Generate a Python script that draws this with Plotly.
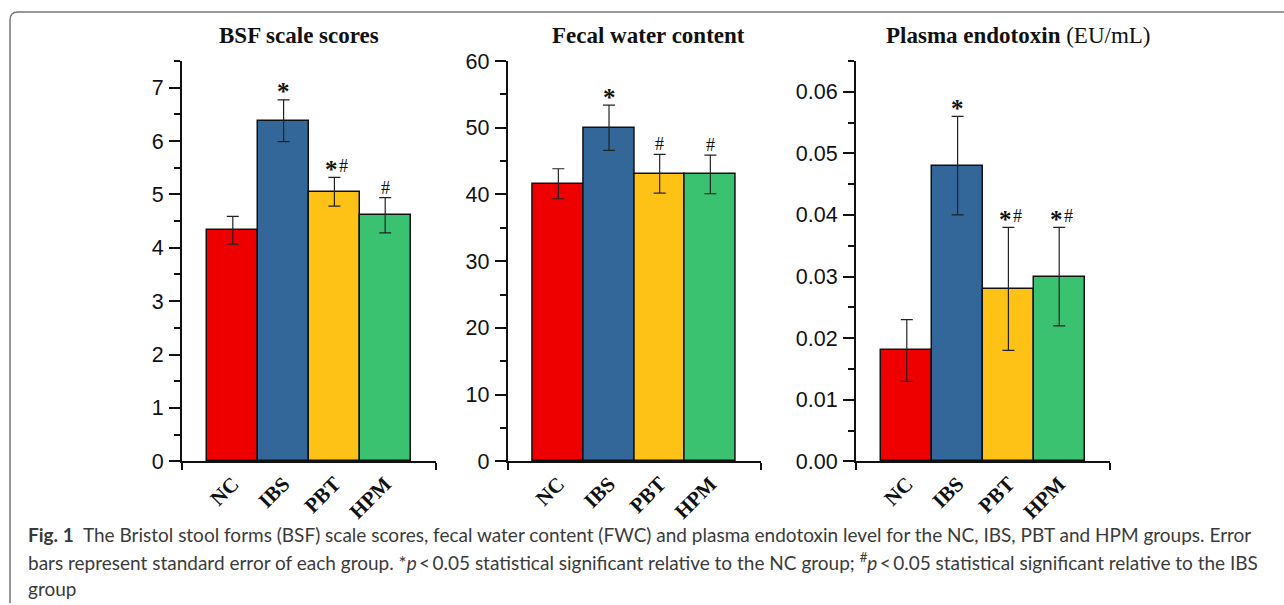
import plotly.graph_objects as go

W, H = 1284, 605

categories = ["NC", "IBS", "PBT", "HPM"]
bar_colors = ["#EE0000", "#336699", "#FEC216", "#3BC271"]

bsf_mean = [4.33, 6.38, 5.05, 4.61]
bsf_se = [0.26, 0.39, 0.27, 0.33]
bsf_sig = ["", "*", "*#", "#"]

fwc_mean = [41.6, 50.0, 43.1, 43.0]
fwc_se = [2.25, 3.4, 2.9, 2.9]
fwc_sig = ["", "*", "#", "#"]

endo_mean = [0.018, 0.048, 0.028, 0.030]
endo_se = [0.005, 0.008, 0.010, 0.008]
endo_sig = ["", "*", "*#", "*#"]

titles = ["<b>BSF scale scores</b>", "<b>Fecal water content</b>",
          "<b>Plasma endotoxin</b> (EU/mL)"]


def px(x):
    return x / W


def py(y):
    return 1 - y / H


panels = [
    dict(mean=bsf_mean, se=bsf_se, sig=bsf_sig, x0=182, x1=436,
         yr=[0, 7.5], dtick=1, minor=0.5, fmt="", tcx=298.7),
    dict(mean=fwc_mean, se=fwc_se, sig=fwc_sig, x0=507.7, x1=761,
         yr=[0, 60], dtick=10, minor=5, fmt="", tcx=648.3),
    dict(mean=endo_mean, se=endo_se, sig=endo_sig, x0=856, x1=1110,
         yr=[0, 0.065], dtick=0.01, minor=0.005, fmt=".2f", tcx=1018),
]

y_bottom, y_top = 461.3, 61

fig = go.Figure()
annotations = []
xs = list(range(len(categories)))

star_font = dict(family="Liberation Serif", size=25, color="#111111")
hash_font = dict(family="Liberation Serif", size=18, color="#111111")

for i, p in enumerate(panels):
    n = "" if i == 0 else str(i + 1)
    fig.add_trace(go.Bar(
        x=xs, y=p["mean"], width=1.0,
        marker=dict(color=bar_colors, line=dict(color="#111111", width=1.5)),
        error_y=dict(type="data", array=p["se"], visible=True,
                     color="#222222", thickness=1.2, width=6),
        xaxis="x" + n, yaxis="y" + n, showlegend=False,
    ))
    xa = dict(
        domain=[px(p["x0"]), px(p["x1"])], range=[-1, 4],
        tickvals=xs, ticktext=["<b>%s</b>" % c for c in categories],
        ticks="", tickangle=-45,
        tickfont=dict(family="Liberation Serif", size=21, color="#111111"),
        showline=True, linecolor="#111111", linewidth=2,
        showgrid=False, zeroline=False, anchor="y" + n, automargin=False,
        minor=dict(tickvals=[-1, 4], ticks="outside", ticklen=7,
                   tickwidth=2, tickcolor="#111111"),
        fixedrange=True,
    )
    ya = dict(
        domain=[py(y_bottom), py(y_top)], range=p["yr"],
        dtick=p["dtick"], tick0=0, tickformat=p["fmt"],
        ticks="outside", ticklen=11, tickwidth=2, tickcolor="#111111",
        tickfont=dict(family="Liberation Sans", size=21.5, color="#111111"),
        ticklabelstandoff=1,
        showline=True, linecolor="#111111", linewidth=2,
        showgrid=False, zeroline=False, anchor="x" + n, automargin=False,
        minor=dict(dtick=p["minor"], tick0=0, ticks="outside", ticklen=6,
                   tickwidth=2, tickcolor="#111111"),
        fixedrange=True,
    )
    fig.update_layout(**{"xaxis" + n: xa, "yaxis" + n: ya})

    # significance marks
    for j, s in enumerate(p["sig"]):
        if not s:
            continue
        top = p["mean"][j] + p["se"][j]
        both = len(s) == 2
        if "*" in s:
            annotations.append(dict(
                x=xs[j], y=top, xref="x" + n, yref="y" + n,
                text="<b>*</b>", showarrow=False, yanchor="middle",
                xanchor="center", yshift=8, xshift=-3 if both else 0,
                font=star_font,
            ))
        if "#" in s:
            annotations.append(dict(
                x=xs[j], y=top, xref="x" + n, yref="y" + n,
                text="#", showarrow=False, yanchor="middle",
                xanchor="center", yshift=10 if not both else 11,
                xshift=9 if both else 0,
                font=hash_font,
            ))
    annotations.append(dict(
        x=px(p["tcx"]), y=py(36), xref="paper", yref="paper",
        text=titles[i], showarrow=False, xanchor="center", yanchor="middle",
        font=dict(family="Liberation Serif", size=23, color="#111111"),
    ))

cap_font = dict(family="Lato", size=19, color="#3a3a3a")
caption = [
    "<b>Fig. 1</b>  The Bristol stool forms (BSF) scale scores, fecal water content (FWC) "
    "and plasma endotoxin level for the NC, IBS, PBT and HPM groups. Error",
    "bars represent standard error of each group. *<i>p</i>\u2009<\u20090.05 statistical "
    "significant relative to the NC group; <sup>#</sup><i>p</i>\u2009<\u20090.05 statistical "
    "significant relative to the IBS",
    "group",
]
for k, line in enumerate(caption):
    annotations.append(dict(
        x=px(26), y=py(534 + 27 * k), xref="paper", yref="paper",
        text=line, showarrow=False, xanchor="left", yanchor="middle",
        font=cap_font,
    ))

r = 8
fig.add_shape(type="path", xref="paper", yref="paper",
              path=f"M {px(10)},{py(603)} L {px(10)},{py(12 + r)} "
                   f"Q {px(10)},{py(12)} {px(10 + r)},{py(12)} L {px(1284)},{py(12)}",
              line=dict(color="#777777", width=1.5))

fig.update_layout(
    width=W, height=H, margin=dict(l=0, r=0, t=0, b=0, autoexpand=False),
    paper_bgcolor="white", plot_bgcolor="white",
    annotations=annotations, bargap=0,
)

fig.write_html("out.html", config={"displayModeBar": False},
               post_script="document.body.style.margin='0';")
